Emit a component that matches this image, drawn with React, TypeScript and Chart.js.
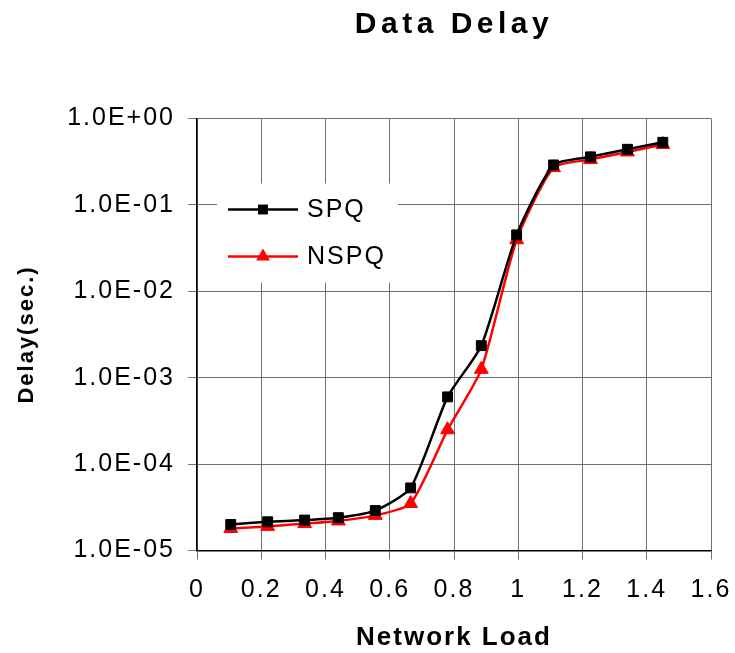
import React, { useEffect, useRef } from 'react';
import { Chart, registerables } from 'chart.js';

Chart.register(...registerables);

// ---- data ----
const loads = [0.105, 0.22, 0.335, 0.44, 0.555, 0.665, 0.78, 0.885, 0.995, 1.11, 1.225, 1.34, 1.45];
const spqDelay = [2.0e-5, 2.15e-5, 2.25e-5, 2.4e-5, 2.9e-5, 5.3e-5, 6.0e-4, 2.35e-3, 4.5e-2, 0.29, 0.36, 0.44, 0.53];
const nspqDelay = [1.8e-5, 1.9e-5, 2.05e-5, 2.2e-5, 2.55e-5, 3.5e-5, 2.5e-4, 1.25e-3, 3.95e-2, 0.27, 0.335, 0.41, 0.5];
const seriesNames = ['SPQ', 'NSPQ'];
const xTickValues = [0, 0.2, 0.4, 0.6, 0.8, 1, 1.2, 1.4, 1.6];
const xTickLabels = ['0', '0.2', '0.4', '0.6', '0.8', '1', '1.2', '1.4', '1.6'];
const yTickValues = [1e-5, 1e-4, 1e-3, 1e-2, 1e-1, 1];
const yTickLabels = ['1.0E-05', '1.0E-04', '1.0E-03', '1.0E-02', '1.0E-01', '1.0E+00'];
const chartTitle = 'Data Delay';
const xAxisTitle = 'Network Load';
const yAxisTitle = 'Delay(sec.)';

const FONT = "'Liberation Sans', Arial, Helvetica, sans-serif";

const spacingPlugin = {
  id: 'spacing',
  beforeDraw(chart: any) {
    const ctx = chart.ctx;
    ctx.letterSpacing = '2px';
    const tb = chart.titleBlock;
    if (tb && !tb.__wrapped) {
      const orig = tb.draw;
      tb.draw = function (...args: any[]) {
        const prev = ctx.letterSpacing;
        ctx.letterSpacing = '4.5px';
        orig.apply(this, args);
        ctx.letterSpacing = prev;
      };
      tb.__wrapped = true;
    }
  },
  afterDraw(chart: any) {
    chart.ctx.letterSpacing = '0px';
  },
};

const legendPlugin = {
  id: 'insideLegend',
  afterDraw(chart: any) {
    const { ctx, chartArea } = chart;
    const bx = chartArea.left + 20;
    const by = chartArea.top + 65;
    ctx.save();
    ctx.fillStyle = '#ffffff';
    ctx.fillRect(bx, by, 181, 99);
    ctx.letterSpacing = '2px';
    chart.data.datasets.forEach((ds: any, i: number) => {
      const y = by + 26 + i * 47;
      const x0 = bx + 11;
      const x1 = bx + 81;
      ctx.strokeStyle = ds.borderColor;
      ctx.lineWidth = ds.borderWidth;
      ctx.beginPath();
      ctx.moveTo(x0, y);
      ctx.lineTo(x1, y);
      ctx.stroke();
      const cx = (x0 + x1) / 2;
      ctx.fillStyle = ds.pointBackgroundColor;
      ctx.beginPath();
      if (ds.pointStyle === 'triangle') {
        const r = ds.pointRadius;
        ctx.moveTo(cx, y - r);
        ctx.lineTo(cx + r * 0.866, y + r / 2);
        ctx.lineTo(cx - r * 0.866, y + r / 2);
        ctx.closePath();
      } else {
        const s = ds.pointRadius * Math.SQRT1_2;
        ctx.rect(cx - s, y - s, 2 * s, 2 * s);
      }
      ctx.fill();
      ctx.fillStyle = '#000';
      ctx.font = `25px ${FONT}`;
      ctx.textAlign = 'left';
      ctx.textBaseline = 'middle';
      ctx.fillText(ds.label, x1 + 9, y + 1);
    });
    ctx.restore();
  },
};

function DelayChart() {
  const ref = useRef<HTMLCanvasElement | null>(null);
  useEffect(() => {
    if (!ref.current) return;
    const chart = new Chart(ref.current, {
      type: 'line',
      data: {
        datasets: [
          {
            label: seriesNames[0],
            data: loads.map((x, i) => ({ x, y: spqDelay[i] })),
            borderColor: '#000000',
            backgroundColor: '#000000',
            pointBackgroundColor: '#000000',
            pointBorderColor: '#000000',
            borderWidth: 2.5,
            pointStyle: 'rect',
            pointRadius: 7,
            pointBorderWidth: 1,
            tension: 0.2,
            fill: false,
          },
          {
            label: seriesNames[1],
            data: loads.map((x, i) => ({ x, y: nspqDelay[i] })),
            borderColor: '#ff0000',
            backgroundColor: '#ff0000',
            pointBackgroundColor: '#ff0000',
            pointBorderColor: '#ff0000',
            borderWidth: 2.5,
            pointStyle: 'triangle',
            pointRadius: 8,
            pointBorderWidth: 1,
            tension: 0.2,
            fill: false,
          },
        ],
      } as any,
      options: {
        animation: false,
        responsive: true,
        maintainAspectRatio: false,
        layout: { padding: { left: 0, right: 24, top: 0, bottom: 0 } },
        plugins: {
          legend: { display: false },
          tooltip: { enabled: false },
          title: {
            display: true,
            text: chartTitle,
            fullSize: false,
            color: '#000',
            font: { family: FONT, size: 30, weight: 'bold', lineHeight: 1.2 },
            padding: { top: 7, bottom: 75.5 },
          },
        },
        scales: {
          x: {
            type: 'linear',
            min: 0,
            max: 1.6,
            afterBuildTicks: (scale: any) => {
              scale.ticks = xTickValues.map((v) => ({ value: v }));
            },
            afterFit: (scale: any) => {
              scale.height = 102.5;
            },
            ticks: {
              color: '#000',
              font: { family: FONT, size: 25, lineHeight: 2.48 },
              padding: 0,
              maxRotation: 0,
              autoSkip: false,
              callback: (v: any) => {
                const i = xTickValues.findIndex((t) => Math.abs(t - v) < 1e-9);
                return i >= 0 ? xTickLabels[i] : '';
              },
            },
            grid: { color: '#707070', lineWidth: 1, drawTicks: true, tickLength: 9, tickColor: '#707070' },
            border: { display: true, color: '#000', width: 1.5 },
            title: {
              display: true,
              text: xAxisTitle,
              color: '#000',
              font: { family: FONT, size: 26, weight: 'bold', lineHeight: 1.2 },
              padding: { top: 0, bottom: 0 },
            },
          },
          y: {
            type: 'logarithmic',
            min: 1e-5,
            max: 1,
            afterBuildTicks: (scale: any) => {
              scale.ticks = yTickValues.map((v) => ({ value: v }));
            },
            afterFit: (scale: any) => {
              scale.width = 197;
            },
            ticks: {
              color: '#000',
              font: { family: FONT, size: 25, lineHeight: 1.2 },
              padding: 13,
              autoSkip: false,
              callback: (v: any) => {
                const i = yTickValues.findIndex((t) => Math.abs(Math.log10(t) - Math.log10(v)) < 1e-6);
                return i >= 0 ? yTickLabels[i] : '';
              },
            },
            grid: { color: '#707070', lineWidth: 1, drawTicks: true, tickLength: 9, tickColor: '#707070' },
            border: { display: true, color: '#000', width: 1.5 },
            title: {
              display: true,
              text: yAxisTitle,
              color: '#000',
              font: { family: FONT, size: 22, weight: 'bold', lineHeight: 1.2 },
              padding: { top: 14, bottom: 0 },
            },
          },
        },
      } as any,
      plugins: [spacingPlugin, legendPlugin],
    });
    return () => chart.destroy();
  }, []);
  return <canvas ref={ref} />;
}

export default function App() {
  return (
    <div style={{ position: 'absolute', left: 0, top: 0, width: 735, height: 653, background: '#fff' }}>
      <DelayChart />
    </div>
  );
}
